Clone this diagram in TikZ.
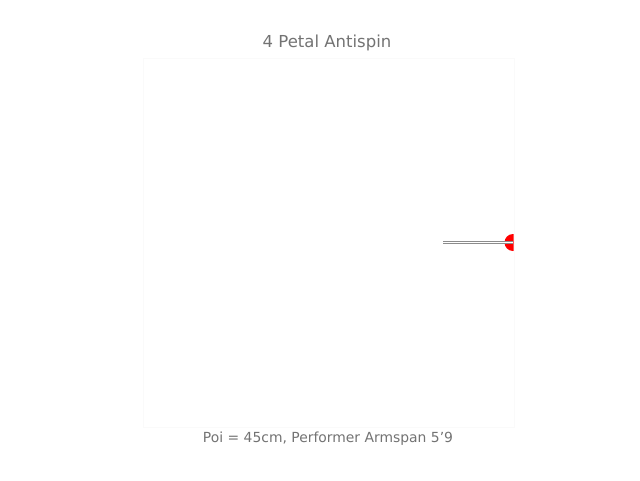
\documentclass[tikz,border=0pt]{standalone}
\usepackage{fontspec}
\setmainfont{DejaVu Sans}
\begin{document}
\begin{tikzpicture}[x=1pt,y=-1pt,
  lbl/.style={text=black!55, inner sep=0pt},
  frame/.style={draw=black!2, line width=0.6pt}]
\useasboundingbox (0,0) rectangle (640,480);
\fill[white] (0,0) rectangle (640,480);
\node[lbl, font=\fontsize{16.5}{19}\selectfont] (title) at (327,43) {4 Petal Antispin};
\node[lbl, font=\fontsize{13.9}{16}\selectfont] (caption) at (328,439) {Poi = 45cm, Performer Armspan 5{\char"27}9};
\draw[frame] (143,58) rectangle (514,427);
\coordinate (hand) at (443,242.5);
\coordinate (head) at (513,242.5);
\begin{scope}
\clip (143,58) rectangle (513.5,427);
\fill[red] (head) circle[radius=8.5];
\end{scope}
\draw[black!45, line width=3pt] (hand) -- (head);
\draw[white, line width=1.2pt] (hand) -- (head);
\end{tikzpicture}
\end{document}
